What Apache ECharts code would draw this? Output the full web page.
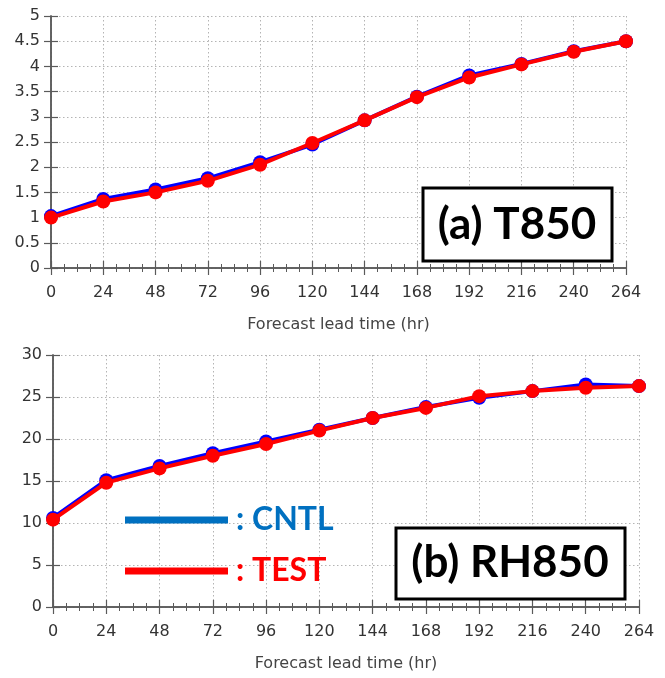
<!DOCTYPE html>
<html>
<head>
<meta charset="utf-8">
<script src="https://cdn.jsdelivr.net/npm/echarts@6/dist/echarts.min.js"></script>
<style>
html,body{margin:0;padding:0;background:#fff;}
#c{width:665px;height:678px;}
</style>
</head>
<body>
<div id="c"></div>
<script>
// ---- data ----
var leadTimes = [0, 24, 48, 72, 96, 120, 144, 168, 192, 216, 240, 264];
var t850Cntl = [1.03, 1.37, 1.56, 1.78, 2.10, 2.45, 2.93, 3.40, 3.82, 4.05, 4.30, 4.50];
var t850Test = [1.00, 1.32, 1.50, 1.73, 2.05, 2.48, 2.93, 3.39, 3.78, 4.04, 4.29, 4.50];
var rh850Cntl = [10.6, 15.1, 16.8, 18.3, 19.7, 21.1, 22.5, 23.8, 24.9, 25.7, 26.5, 26.3];
var rh850Test = [10.4, 14.8, 16.5, 18.0, 19.4, 21.0, 22.5, 23.7, 25.1, 25.7, 26.1, 26.3];
var seriesNames = ['CNTL', 'TEST'];
var panelLabels = ['(a) T850', '(b) RH850'];
var xTitle = 'Forecast lead time (hr)';

function pairs(vals){ return leadTimes.map(function(t,i){ return [t, vals[i]]; }); }

var axisCol = '#5a5a5a';
var labelFont = {fontFamily:'DejaVu Sans', fontSize:16, color:'#333'};

function xBottom(gi){
  return {
    type:'value', gridIndex:gi, position:'bottom', min:0, max:264, interval:24,
    axisLine:{show:true, lineStyle:{color:axisCol, width:1.5}},
    axisTick:{show:true, inside:true, length:7, lineStyle:{color:axisCol, width:1.2}},
    minorTick:{show:true, splitNumber:4, length:4, lineStyle:{color:axisCol, width:1}},
    axisLabel:Object.assign({margin:17}, labelFont),
    splitLine:{show:true, lineStyle:{type:[1.5,2.5], color:'#b4b4b4', width:1}},
    name:xTitle, nameLocation:'middle', nameGap:49,
    nameTextStyle:{fontFamily:'DejaVu Sans', fontSize:16, color:'#444'}
  };
}
function xTop(gi){
  return {
    type:'value', gridIndex:gi, position:'top', min:0, max:264, interval:24,
    axisLine:{show:true, lineStyle:{color:axisCol, width:1.5}},
    axisTick:{show:true, inside:true, length:7, lineStyle:{color:axisCol, width:1.2}},
    minorTick:{show:true, splitNumber:4, length:4, lineStyle:{color:axisCol, width:1}},
    axisLabel:{show:false}, splitLine:{show:false}
  };
}
function yLeft(gi, max, interval){
  return {
    type:'value', gridIndex:gi, position:'left', min:0, max:max, interval:interval,
    axisLine:{show:true, lineStyle:{color:axisCol, width:1.5}},
    axisTick:{show:true, inside:true, length:7, lineStyle:{color:axisCol, width:1.2}},
    axisLabel:Object.assign({margin:11}, labelFont),
    splitLine:{show:true, lineStyle:{type:[1.5,2.5], color:'#b4b4b4', width:1}}
  };
}
function yRight(gi, max, interval){
  return {
    type:'value', gridIndex:gi, position:'right', min:0, max:max, interval:interval,
    axisLine:{show:true, lineStyle:{color:axisCol, width:1.5}},
    axisTick:{show:true, inside:true, length:7, lineStyle:{color:axisCol, width:1.2}},
    axisLabel:{show:false}, splitLine:{show:false}
  };
}
function lineSeries(name, color, xi, yi, vals, z){
  return {
    name:name, type:'line', xAxisIndex:xi, yAxisIndex:yi, data:pairs(vals),
    symbol:'circle', symbolSize:14, clip:false, z:z,
    lineStyle:{color:color, width:4}, itemStyle:{color:color},
    emphasis:{disabled:true}, animation:false
  };
}

var chart = echarts.init(document.getElementById('c'), null, {renderer:'canvas'});
chart.setOption({
  backgroundColor:'#fff',
  animation:false,
  grid:[
    {left:51, top:16, width:575, height:252},
    {left:53, top:355, width:586, height:252}
  ],
  xAxis:[xBottom(0), xTop(0), xBottom(1), xTop(1)],
  yAxis:[yLeft(0,5,0.5), yRight(0,5,0.5), yLeft(1,30,5), yRight(1,30,5)],
  legend:{
    show:true, orient:'vertical', left:125, top:500, padding:0,
    itemWidth:103, itemHeight:7, itemGap:11, icon:'rect',
    selectedMode:false,
    data:[
      {name:seriesNames[0], itemStyle:{color:'#0070C0'}, textStyle:{color:'#0070C0'}},
      {name:seriesNames[1], itemStyle:{color:'#FF0000'}, textStyle:{color:'#FF0000'}}
    ],
    formatter:function(n){ return ': ' + n; },
    textStyle:{fontFamily:'Lato', fontWeight:'bold', fontSize:32, lineHeight:40, padding:[0,0,0,3]}
  },
  series:[
    lineSeries(seriesNames[0], '#0000FF', 0, 0, t850Cntl, 2),
    lineSeries(seriesNames[1], '#FF0000', 0, 0, t850Test, 3),
    lineSeries(seriesNames[0], '#0000FF', 2, 2, rh850Cntl, 2),
    lineSeries(seriesNames[1], '#FF0000', 2, 2, rh850Test, 3)
  ],
  graphic:[
    {type:'rect', shape:{x:423, y:188, width:189, height:73}, style:{fill:'#fff', stroke:'#000', lineWidth:3}, z:10},
    {type:'text', x:517, y:225, style:{text:panelLabels[0], fontFamily:'Lato', fontWeight:'bold', fontSize:44, fill:'#000', align:'center', verticalAlign:'middle'}, z:11},
    {type:'rect', shape:{x:396, y:528, width:229, height:71}, style:{fill:'#fff', stroke:'#000', lineWidth:3}, z:10},
    {type:'text', x:510, y:563, style:{text:panelLabels[1], fontFamily:'Lato', fontWeight:'bold', fontSize:44, fill:'#000', align:'center', verticalAlign:'middle'}, z:11}
  ]
});
</script>
</body>
</html>
